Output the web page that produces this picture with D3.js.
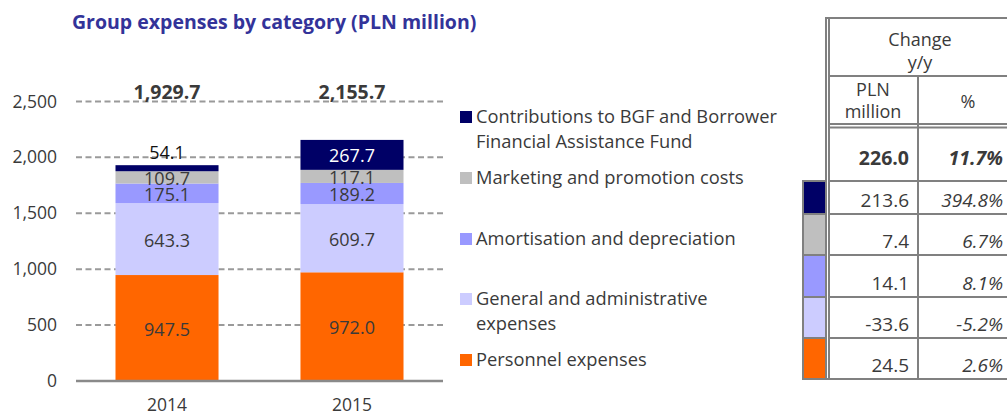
<!DOCTYPE html>
<html>
<head>
<meta charset="utf-8">
<script src="https://cdn.jsdelivr.net/npm/d3@7"></script>
<style>
  html, body { margin: 0; padding: 0; background: #fff; }
  svg { display: block; font-family: "Open Sans", "Noto Sans", sans-serif; }
</style>
</head>
<body>
<svg id="chart" width="1007" height="415"></svg>
<script>
// Group expenses by category, PLN million
const years = ["2014", "2015"];
const categories = [
  "Personnel expenses",
  "General and administrative expenses",
  "Amortisation and depreciation",
  "Marketing and promotion costs",
  "Contributions to BGF and Borrower Financial Assistance Fund"
];
const values2014 = [947.5, 643.3, 175.1, 109.7, 54.1];
const values2015 = [972.0, 609.7, 189.2, 117.1, 267.7];
const colors = ["#FF6600", "#CCCCFF", "#9999FF", "#BFBFBF", "#000066"];
const yTicks = [0, 500, 1000, 1500, 2000, 2500];
const legendLines = [
  ["Contributions to BGF and Borrower", "Financial Assistance Fund"],
  ["Marketing and promotion costs"],
  ["Amortisation and depreciation"],
  ["General and administrative", "expenses"],
  ["Personnel expenses"]
];

const TEXT = "#3a3a3a";
const GRID = "#9a9a9a";
const svg = d3.select("#chart");

// plain hyphen-minus for negative numbers
const loc = d3.formatLocale({ decimal: ".", thousands: ",", grouping: [3], currency: ["", ""], minus: "-" });
const fmt1 = loc.format(",.1f");
const fmtPlain = loc.format(".1f");
const fmtPct = v => fmtPlain(v * 100) + "%";

// Title
svg.append("text")
  .attr("x", 72).attr("y", 29)
  .attr("font-size", 19.5).attr("font-weight", 700)
  .attr("fill", "#333399")
  .text("Group expenses by category (PLN million)");

// ---------- Stacked bar chart ----------
const plot = { left: 76, right: 443, top: 101.4, bottom: 381 };

const x = d3.scaleBand().domain(years)
  .range([plot.left, plot.right]).paddingInner(0.443).paddingOuter(0.2135);
const y = d3.scaleLinear().domain([0, 2500]).range([plot.bottom, plot.top]);

const rows = years.map((yr, i) => {
  const vals = i === 0 ? values2014 : values2015;
  const o = { year: yr };
  categories.forEach((c, k) => o[c] = vals[k]);
  return o;
});
const stack = d3.stack().keys(categories)(rows);

// Dashed gridlines
svg.append("g").selectAll("line")
  .data(yTicks.filter(t => t > 0))
  .join("line")
  .attr("x1", plot.left).attr("x2", plot.right)
  .attr("y1", d => y(d)).attr("y2", d => y(d))
  .attr("stroke", GRID).attr("stroke-width", 2)
  .attr("stroke-dasharray", "6,3.5");

// Y axis labels
const yAxis = svg.append("g")
  .attr("transform", `translate(${plot.left - 19},0)`)
  .call(d3.axisLeft(y).tickValues(yTicks).tickSize(0).tickPadding(0).tickFormat(loc.format(",")));
yAxis.select(".domain").remove();
yAxis.selectAll("text")
  .attr("font-size", 17.5).attr("fill", TEXT)
  .attr("font-family", "'Open Sans', sans-serif");

// Bars
svg.append("g").selectAll("g")
  .data(stack)
  .join("g")
  .attr("fill", (d, i) => colors[i])
  .selectAll("rect")
  .data(d => d)
  .join("rect")
  .attr("x", d => x(d.data.year))
  .attr("width", x.bandwidth())
  .attr("y", d => y(d[1]))
  .attr("height", d => y(d[0]) - y(d[1]));

// Baseline
svg.append("line")
  .attr("x1", plot.left).attr("x2", plot.right)
  .attr("y1", y(0)).attr("y2", y(0))
  .attr("stroke", "#8a8a8a").attr("stroke-width", 2.5);

// X axis labels
const xAxis = svg.append("g")
  .attr("transform", `translate(0,${y(0) + 10})`)
  .call(d3.axisBottom(x).tickSize(0).tickPadding(8));
xAxis.select(".domain").remove();
xAxis.selectAll("text")
  .attr("font-size", 17.5).attr("fill", TEXT)
  .attr("font-family", "'Open Sans', sans-serif");

// Segment value labels (thin segments get their label above the bar)
stack.forEach((layer, k) => {
  layer.forEach(d => {
    const v = d[1] - d[0];
    const h = y(d[0]) - y(d[1]);
    const thin = h < 9;
    svg.append("text")
      .attr("x", x(d.data.year) + x.bandwidth() / 2)
      .attr("y", thin ? y(d[1]) - 6 : (y(d[0]) + y(d[1])) / 2 + 7.5)
      .attr("text-anchor", "middle")
      .attr("font-size", 18)
      .attr("fill", (k === 4 && !thin) ? "#ffffff" : (thin ? "#111" : TEXT))
      .text(fmt1(v));
  });
});

// Totals
rows.forEach((r, i) => {
  const vals = i === 0 ? values2014 : values2015;
  svg.append("text")
    .attr("x", x(r.year) + x.bandwidth() / 2)
    .attr("y", y(2500) - 2)
    .attr("text-anchor", "middle")
    .attr("font-size", 19.5).attr("font-weight", 700)
    .attr("fill", TEXT)
    .text(fmt1(d3.sum(vals)));
});

// ---------- Legend ----------
const legendTop = [111, 172, 233, 293, 354];
const legendOrder = [4, 3, 2, 1, 0];
const legend = svg.append("g");
legendOrder.forEach((ci, j) => {
  const g = legend.append("g").attr("transform", `translate(460,${legendTop[j]})`);
  g.append("rect").attr("width", 12).attr("height", 12).attr("fill", colors[ci]);
  legendLines[j].forEach((line, li) => {
    g.append("text")
      .attr("x", 16).attr("y", 11.5 + li * 25)
      .attr("font-size", 18.3).attr("fill", TEXT)
      .text(line);
  });
});

// ---------- Change y/y table ----------
const total14 = d3.sum(values2014), total15 = d3.sum(values2015);
const tableRows = legendOrder.map(ci => ({
  color: colors[ci],
  abs: values2015[ci] - values2014[ci],
  pct: values2015[ci] / values2014[ci] - 1
}));

const T = { swL: 803, in1: 826, in2: 829, mid: 918, right: 1007 };
const rowEdges = [181, 214, 255, 297, 338, 379];
const LINE = "#808080";
const tbl = svg.append("g").attr("stroke", LINE).attr("stroke-width", 2).attr("fill", "none");

// Colour swatches
tableRows.forEach((r, i) => {
  svg.append("rect")
    .attr("x", T.swL).attr("y", rowEdges[i])
    .attr("width", T.in1 - T.swL).attr("height", rowEdges[i + 1] - rowEdges[i])
    .attr("fill", r.color).attr("stroke", LINE).attr("stroke-width", 2);
});

const hline = (x1, x2, yy) => tbl.append("line").attr("x1", x1).attr("x2", x2).attr("y1", yy).attr("y2", yy);
const vline = (xx, y1, y2) => tbl.append("line").attr("x1", xx).attr("x2", xx).attr("y1", y1).attr("y2", y2);

vline(T.in1, 17, 380);
vline(T.in2, 17, 380);
hline(T.in1 - 1, T.right, 18);
hline(T.in2, T.right, 76);
vline(T.mid, 76, 380);
hline(T.in2, T.right, 124);
hline(T.in2, T.right, 127.5);
rowEdges.forEach(e => hline(T.in2, T.right, e));
hline(T.swL - 1, T.right, 379);

const tt = svg.append("g").attr("fill", TEXT).attr("font-size", 18);
tt.append("text").attr("x", 920).attr("y", 46).attr("text-anchor", "middle").text("Change");
tt.append("text").attr("x", 920).attr("y", 69).attr("text-anchor", "middle").text("y/y");
tt.append("text").attr("x", 873).attr("y", 96).attr("text-anchor", "middle").text("PLN");
tt.append("text").attr("x", 873).attr("y", 118).attr("text-anchor", "middle").text("million");
tt.append("text").attr("x", 968).attr("y", 108).attr("text-anchor", "middle").text("%");

tt.append("text").attr("x", 909).attr("y", 165).attr("text-anchor", "end")
  .attr("font-size", 19.5).attr("font-weight", 700).text(fmtPlain(total15 - total14));
tt.append("text").attr("x", 1003).attr("y", 165).attr("text-anchor", "end")
  .attr("font-size", 19.5).attr("font-weight", 700).attr("font-style", "italic")
  .text(fmtPct(total15 / total14 - 1));

tableRows.forEach((r, i) => {
  const base = rowEdges[i + 1] - 7;
  tt.append("text").attr("x", 909).attr("y", base).attr("text-anchor", "end")
    .attr("font-size", 19).text(fmtPlain(r.abs));
  tt.append("text").attr("x", 1003).attr("y", base).attr("text-anchor", "end")
    .attr("font-size", 19).attr("font-style", "italic").text(fmtPct(r.pct));
});
</script>
</body>
</html>
